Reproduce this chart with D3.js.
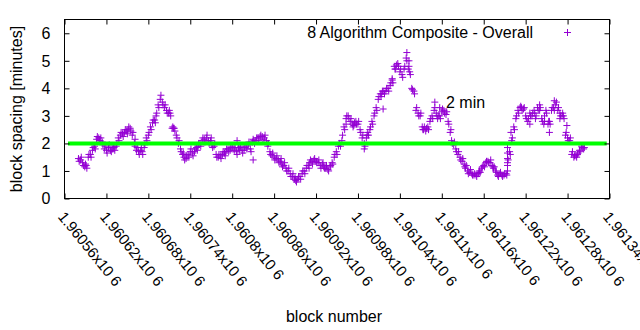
<!DOCTYPE html>
<html><head><meta charset="utf-8">
<script src="https://cdn.jsdelivr.net/npm/d3@7"></script>
<style>body{margin:0;background:#fff}svg text{font-family:"Liberation Sans",Arial,sans-serif;fill:#000}</style>
</head><body><svg id="c" width="640" height="330"></svg>
<script>
const firstBlock = 1960580, lastBlock = 1961303;
const spacingValues = [
1.45,1.4,1.3,1.15,1.2,1.5,1.6,1.75,1.9,2.15,
2.2,2.1,2.05,1.8,1.75,1.85,1.75,1.8,1.85,1.9,
2.2,2.3,2.35,2.4,2.45,2.5,2.55,2.3,2.0,1.75,
1.7,1.75,1.7,1.85,2.2,2.3,2.6,2.75,2.85,3.0,
3.4,3.6,3.5,3.3,3.2,3.1,3.1,2.55,2.55,2.3,
2.0,1.8,1.6,1.5,1.45,1.6,1.7,1.65,1.7,1.85,
1.9,2.0,2.1,2.15,2.2,2.1,2.1,1.95,1.9,1.6,
1.5,1.55,1.6,1.65,1.7,1.8,1.75,1.9,1.75,1.7,
1.85,1.8,1.75,1.75,1.9,1.95,1.8,2.05,2.1,2.1,
2.2,2.25,2.25,2.2,2.1,1.9,1.7,1.55,1.5,1.45,
1.4,1.35,1.25,1.2,1.1,1.0,0.9,0.8,0.7,0.65,
0.7,0.8,0.9,1.0,1.1,1.2,1.3,1.35,1.4,1.35,
1.3,1.2,1.25,1.15,1.1,1.05,1.15,1.3,1.5,1.7,
1.9,2.0,2.1,2.6,2.9,3.0,2.8,2.7,2.65,2.8,
2.7,2.5,2.2,2.0,2.2,2.4,2.5,2.8,3.0,3.3,
3.6,3.8,3.8,3.9,3.9,4.0,4.1,4.3,4.8,4.7,
4.9,4.6,4.5,4.7,5.1,4.7,4.6,4.0,3.9,3.2,
3.1,3.0,2.6,2.5,2.45,2.6,2.8,3.0,3.2,3.1,
2.9,3.0,3.15,3.2,3.05,2.8,2.4,2.1,1.95,1.8,
1.6,1.5,1.35,1.25,1.1,1.0,0.95,0.9,0.85,0.85,
0.9,1.0,1.1,1.2,1.3,1.35,1.3,1.2,1.1,1.0,
0.85,0.9,0.85,0.85,0.9,1.3,1.7,2.1,2.6,2.9,
3.2,3.3,3.3,3.25,3.0,2.8,3.1,3.0,3.2,2.9,
3.3,3.2,2.9,2.7,3.2,2.7,2.8,3.2,3.3,3.4,
3.2,3.1,3.0,3.0,2.3,2.2,2.1,1.6,1.5,1.55,
1.6,1.75,1.9,1.8
];
// in-between blocks (offset by one block), read from the cloud's spread
const spacingValuesB = [
1.35,1.5,1.2,1.25,1.1,1.6,1.5,1.85,1.8,2.25,
2.1,2.2,1.95,1.9,1.65,1.95,1.7,1.9,1.75,2.0,
2.1,2.4,2.25,2.5,2.35,2.6,2.45,2.4,1.9,1.85,
1.6,1.85,1.6,1.95,2.1,2.4,2.5,2.85,2.75,3.1,
3.3,3.75,3.4,3.4,3.1,3.2,3.0,2.6,2.45,2.2,
2.1,1.7,1.65,1.4,1.55,1.5,1.8,1.55,1.8,1.75,
2.0,1.9,2.2,2.05,2.3,2.0,2.2,1.85,2.0,1.5,
1.6,1.45,1.7,1.55,1.8,1.7,1.85,1.8,1.85,1.6,
1.75,1.9,1.65,1.85,1.8,2.05,1.7,2.15,2.0,2.2,
2.1,2.3,2.15,2.3,2.0,2.0,1.6,1.65,1.4,1.55,
1.3,1.45,1.15,1.3,1.0,1.1,0.8,0.9,0.75,0.6,
0.8,0.7,1.0,0.9,1.2,1.1,1.4,1.25,1.45,1.3,
1.4,1.1,1.3,1.1,1.2,1.0,1.2,1.25,1.6,1.6,
2.0,1.9,2.3,2.5,3.0,2.9,2.9,2.6,2.75,2.7,
2.8,2.4,2.3,1.9,2.3,2.3,2.6,2.7,3.1,3.2,
3.7,3.7,3.9,3.8,4.0,3.9,4.2,4.2,4.7,4.85,
4.8,4.7,4.4,4.8,5.0,4.8,4.5,3.95,3.8,3.3,
3.0,3.1,2.5,2.6,2.55,2.5,2.9,2.9,3.3,3.0,
3.0,2.9,3.25,3.1,3.15,2.7,2.5,2.0,2.05,1.7,
1.7,1.4,1.45,1.15,1.2,0.9,1.05,0.85,0.9,0.8,
0.95,0.95,1.15,1.15,1.35,1.3,1.4,1.15,1.15,0.95,
0.8,0.95,0.8,0.9,0.85,1.4,1.6,2.2,2.5,3.0,
3.1,3.35,3.2,3.3,2.9,2.9,3.0,3.1,3.1,3.0,
3.2,3.3,2.8,2.8,3.1,2.8,2.7,3.3,3.2,3.5,
3.3,3.0,3.1,2.9,2.4,2.1,2.2,1.7,1.55,1.5,
1.65,1.7,1.85,1.85
];
const extraBlocks = [1960661,1960716,1960807,1960830,1960963,1960989,1961016,1961029,1961050,1961053,1961090,1961097,1961194,1961194,1961194,1961194,1961194,1961199,1961226,1961240,1961247,1961254,1961261,1961269,1961279];
const extraValues = [2.15,2.55,2.1,1.4,2.7,1.8,3.25,4.35,5.3,5.0,3.5,3.3,1.0,1.2,1.45,1.65,1.85,2.4,2.7,3.4,3.0,2.4,3.55,2.9,2.65];
const xTickValues = [1960560,1960620,1960680,1960740,1960800,1960860,1960920,1960980,1961040,1961100,1961160,1961220,1961280,1961340];
const xTickLabels = ["1.96056x10 6","1.96062x10 6","1.96068x10 6","1.96074x10 6","1.9608x10 6","1.96086x10 6","1.96092x10 6","1.96098x10 6","1.96104x10 6","1.9611x10 6","1.96116x10 6","1.96122x10 6","1.96128x10 6","1.96134x10 6"];
const yTickValues = [0,1,2,3,4,5,6];
const targetValue = 2;
const targetRange = [1960565, 1961336];
const seriesName = "8 Algorithm Composite - Overall";
const targetLabel = "2 min";

const n = spacingValues.length;
const blocks = d3.range(n).map(i => Math.round(firstBlock + i * (lastBlock - firstBlock) / (n - 1)));
const points = blocks.map((b, i) => ({b, v: spacingValues[i]}))
  .concat(blocks.map((b, i) => ({b: b + 1, v: spacingValuesB[i]})))
  .concat(extraBlocks.map((b, i) => ({b, v: extraValues[i]})));

const svg = d3.select("#c");
const L = 64.5, R = 609.5, T = 19.5, B = 198.5;
const x = d3.scaleLinear().domain([1960560, 1961340]).range([L, R]);
const y = d3.scaleLinear().domain([0, 6.5]).range([B, T]);
const col = "#9400d3";
const fs = 16;

// points
const cross = "M-3.5,0H3.5M0,-3.5V3.5";
svg.append("g").selectAll("path").data(points).join("path")
  .attr("d", cross).attr("transform", d => `translate(${x(d.b)},${y(d.v)})`)
  .attr("stroke", col).attr("stroke-width", 1).attr("fill", "none");

// target line
svg.append("line").attr("x1", x(targetRange[0])).attr("x2", x(targetRange[1]))
  .attr("y1", y(targetValue)).attr("y2", y(targetValue))
  .attr("stroke", "#00ff00").attr("stroke-width", 4);

// axes
const tl = 5;
const xb = d3.axisBottom(x).tickValues(xTickValues).tickSizeInner(-tl).tickSizeOuter(0).tickFormat("");
const xt = d3.axisTop(x).tickValues(xTickValues).tickSizeInner(-tl).tickSizeOuter(0).tickFormat("");
const yl = d3.axisLeft(y).tickValues(yTickValues).tickSizeInner(-tl).tickSizeOuter(0).tickFormat("");
const yr = d3.axisRight(y).tickValues(yTickValues).tickSizeInner(-tl).tickSizeOuter(0).tickFormat("");
[[xb, `translate(0,${B})`], [xt, `translate(0,${T})`], [yl, `translate(${L},0)`], [yr, `translate(${R},0)`]].forEach(([a, t]) => {
  const g = svg.append("g").attr("transform", t).call(a);
  g.select(".domain").remove();
  g.selectAll("line").attr("stroke", "#000");
});
svg.append("rect").attr("x", L).attr("y", T).attr("width", R - L).attr("height", B - T)
  .attr("fill", "none").attr("stroke", "#000").attr("stroke-width", 1);

// y tick labels
svg.append("g").selectAll("text").data(yTickValues).join("text")
  .attr("x", L - 14).attr("y", d => y(d)).attr("dy", "0.36em")
  .attr("text-anchor", "end").attr("font-size", fs).text(d => d);

// x tick labels
svg.append("g").selectAll("text").data(xTickValues).join("text")
  .attr("transform", (d, i) => `translate(${x(d) - 3},${B + 15}) rotate(51)`)
  .attr("dy", "0.36em").attr("font-size", 15).text((d, i) => xTickLabels[i]);

// axis titles
svg.append("text").attr("transform", `translate(22,${(T + B) / 2}) rotate(-90)`)
  .attr("text-anchor", "middle").attr("font-size", fs).text("block spacing [minutes]");
svg.append("text").attr("x", 334).attr("y", 322).attr("text-anchor", "middle")
  .attr("font-size", fs).text("block number");

// legend
svg.append("text").attr("x", 533).attr("y", 37.5).attr("text-anchor", "end")
  .attr("font-size", fs).text(seriesName);
svg.append("path").attr("d", cross).attr("transform", "translate(567.5,32.5)")
  .attr("stroke", col).attr("fill", "none");

// target label
svg.append("text").attr("x", 446).attr("y", 107.5).attr("font-size", fs).text(targetLabel);
</script></body></html>
